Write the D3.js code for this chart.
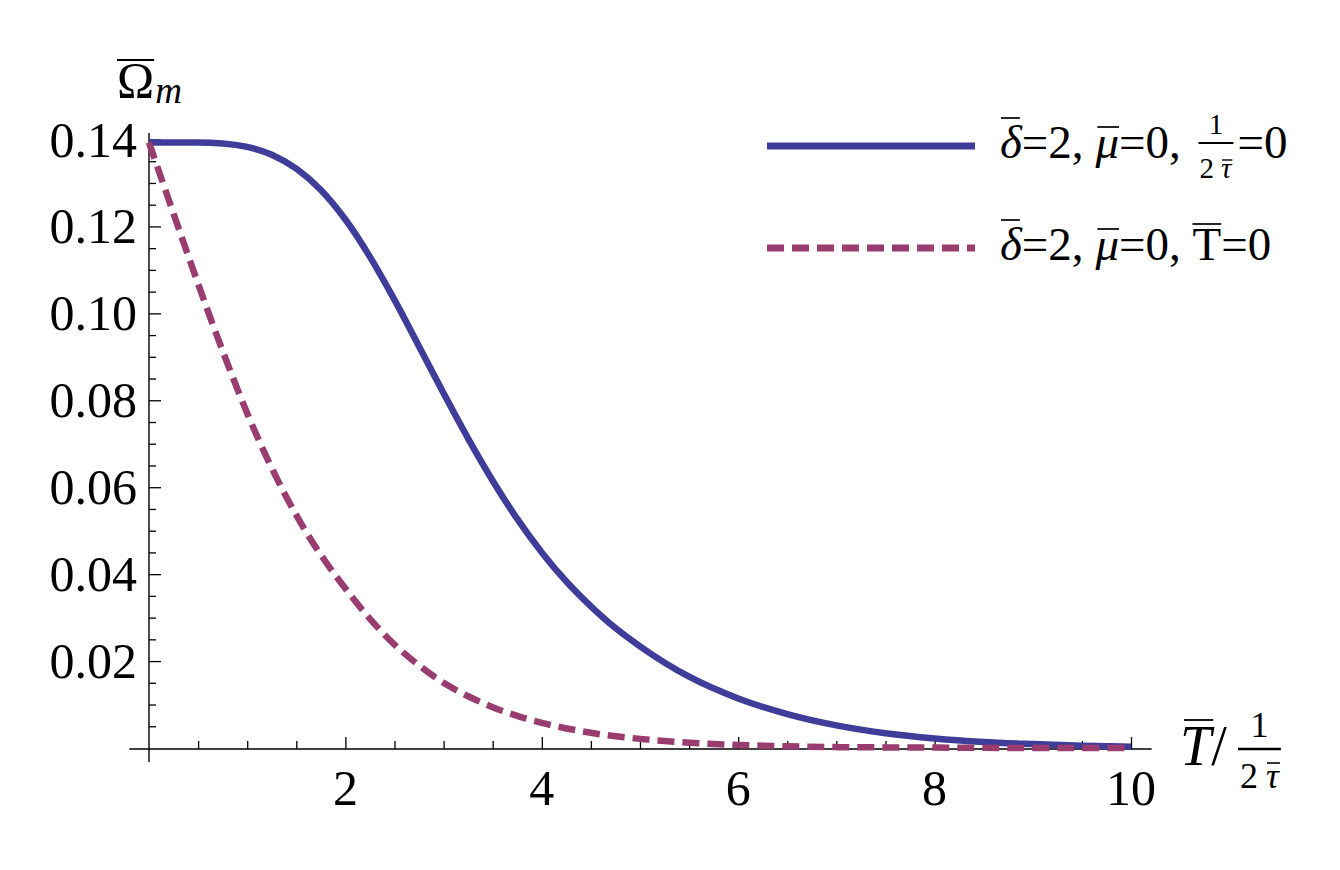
<!DOCTYPE html>
<html><head><meta charset="utf-8">
<script src="https://cdn.jsdelivr.net/npm/d3@7/dist/d3.min.js"></script>
<style>html,body{margin:0;padding:0;background:#fff;} svg{display:block;} text{white-space:pre;}</style>
</head><body>
<svg id="chart" width="1340" height="870"></svg>
<script>
// ---- data ----
const solidX = [0, 0.5, 0.75, 1.0, 1.25, 1.5, 1.75, 2.0, 2.25, 2.5, 2.75, 3.0, 3.25, 3.5, 3.75, 4.0, 4.25, 4.5, 4.75, 5.0, 5.5, 6.0, 6.5, 7.0, 7.5, 8.0, 8.5, 9.0, 9.5, 10];
const solidY = [0.1393, 0.1393, 0.1391, 0.1383, 0.1365, 0.1333, 0.1284, 0.1216, 0.1130, 0.1031, 0.0924, 0.0816, 0.0712, 0.0615, 0.0527, 0.0450, 0.0383, 0.0326, 0.0276, 0.0234, 0.0164, 0.0114, 0.0078, 0.0052, 0.0034, 0.0022, 0.0014, 0.0009, 0.0005, 0.0003];
const dashX = [0, 0.2, 0.4, 0.6, 0.8, 1.0, 1.2, 1.4, 1.6, 1.8, 2.0, 2.25, 2.5, 2.75, 3.0, 3.25, 3.5, 3.75, 4.0, 4.5, 5.0, 5.5, 6.0, 6.5, 7.0, 8.0, 9.0, 10];
const dashY = [0.1393, 0.1262, 0.1132, 0.1005, 0.0884, 0.0770, 0.0668, 0.0577, 0.0497, 0.0428, 0.0367, 0.0297, 0.0238, 0.0190, 0.0150, 0.0119, 0.0094, 0.0074, 0.0058, 0.0035, 0.0021, 0.0012, 0.0007, 0.0004, 0.0002, 0.0001, 0.0000, 0.0000];
const xMajorTicks = [2, 4, 6, 8, 10];
const xMinorTicks = [0.5, 1, 1.5, 2.5, 3, 3.5, 4.5, 5, 5.5, 6.5, 7, 7.5, 8.5, 9, 9.5];
const yMajorTicks = [0.02, 0.04, 0.06, 0.08, 0.10, 0.12, 0.14];
const yMinorTicks = [0.005, 0.01, 0.015, 0.025, 0.03, 0.035, 0.045, 0.05, 0.055, 0.065, 0.07, 0.075, 0.085, 0.09, 0.095, 0.105, 0.11, 0.115, 0.125, 0.13, 0.135];
const seriesColors = ["#3F3D99", "#993D71"];

// ---- scales ----
const svg = d3.select("#chart");
const FONT = "'Liberation Serif', 'Times New Roman', serif";
const x = d3.scaleLinear().domain([0, 10]).range([149, 1131]);
const y = d3.scaleLinear().domain([0, 0.14]).range([748, 139.5]);
const y0 = y(0) + 1;

// ---- axes ----
svg.append("line").attr("x1", x(-0.2)).attr("x2", x(10.21)).attr("y1", y0).attr("y2", y0)
  .attr("stroke", "#000").attr("stroke-width", 1.4);
svg.append("line").attr("x1", x(0)).attr("x2", x(0)).attr("y1", y(0.1415)).attr("y2", y(-0.0032))
  .attr("stroke", "#000").attr("stroke-width", 1.4);

function xTicks(vals, len) {
  const a = d3.axisBottom(x).tickValues(vals).tickSize(-len).tickFormat("");
  const g = svg.append("g").attr("transform", `translate(0,${y0})`).call(a);
  g.select(".domain").remove();
  g.selectAll(".tick line").attr("stroke", "#000").attr("stroke-width", 1.3);
}
function yTicks(vals, len) {
  const a = d3.axisLeft(y).tickValues(vals).tickSize(-len).tickFormat("");
  const g = svg.append("g").attr("transform", `translate(${x(0)},0)`).call(a);
  g.select(".domain").remove();
  g.selectAll(".tick line").attr("stroke", "#000").attr("stroke-width", 1.3);
}
xTicks(xMajorTicks, 12); xTicks(xMinorTicks, 8);
yTicks(yMajorTicks, 12); yTicks(yMinorTicks, 7);

const TS = 50;
svg.append("g").selectAll("text").data(xMajorTicks).join("text")
  .attr("x", d => x(d)).attr("y", 805).attr("text-anchor", "middle")
  .attr("font-family", FONT).attr("font-size", TS).text(d => d3.format("d")(d));
svg.append("g").selectAll("text").data(yMajorTicks).join("text")
  .attr("x", 137).attr("y", d => y(d) + 17).attr("text-anchor", "end")
  .attr("font-family", FONT).attr("font-size", TS).text(d => d3.format(".2f")(d));

// ---- curves ----
const line = d3.line().x(d => x(d[0])).y(d => y(d[1])).curve(d3.curveMonotoneX);
svg.append("path").datum(solidX.map((v, i) => [v, solidY[i]]))
  .attr("d", line).attr("fill", "none").attr("stroke", seriesColors[0]).attr("stroke-width", 6.5);
svg.append("path").datum(dashX.map((v, i) => [v, dashY[i]]))
  .attr("d", line).attr("fill", "none").attr("stroke", seriesColors[1]).attr("stroke-width", 6.5)
  .attr("stroke-dasharray", "17,8");

// ---- text helpers ----
function txt(xp, yp, s, size, italic, anchor) {
  return svg.append("text").attr("x", xp).attr("y", yp).attr("font-family", FONT)
    .attr("font-size", size).attr("font-style", italic ? "italic" : "normal")
    .attr("text-anchor", anchor || "start").text(s);
}
function bar(x1, x2, yy, w) {
  svg.append("line").attr("x1", x1).attr("x2", x2).attr("y1", yy).attr("y2", yy)
    .attr("stroke", "#000").attr("stroke-width", w || 1.6);
}
function flow(x0, base, parts) {
  let cx = x0;
  parts.forEach(p => {
    cx += (p.dx || 0);
    const t = txt(cx, base, p.t, p.size, p.it);
    const w = t.node().getComputedTextLength();
    if (p.ol !== undefined) bar(cx + (p.olx || 0), cx + w + (p.olx2 || 0), base + p.ol, 1.7);
    cx += w;
  });
  return cx;
}

// ---- legend ----
const LS = 47;
const legY = [146, 248];
svg.append("line").attr("x1", 767).attr("x2", 975).attr("y1", legY[0]).attr("y2", legY[0])
  .attr("stroke", seriesColors[0]).attr("stroke-width", 7);
svg.append("line").attr("x1", 767).attr("x2", 975).attr("y1", legY[1]).attr("y2", legY[1])
  .attr("stroke", seriesColors[1]).attr("stroke-width", 7).attr("stroke-dasharray", "17,8");

const NB = "\u00a0";
let ex = flow(1000, 158, [
  {t: "δ", size: LS, it: true, ol: -40, olx: 1, olx2: -2},
  {t: "=2," + NB, size: LS},
  {t: "μ", size: LS, it: true, ol: -31, olx: 2},
  {t: "=0," + NB, size: LS}
]);
// fraction 1/(2 tau)
const fx = ex + 6, FS = 29;
const fr2 = txt(fx + 1, 178, "2", FS, false);
const w2 = fr2.node().getComputedTextLength();
const tau = txt(fx + 1 + w2 + 7, 178, "τ", FS, true);
const wt = tau.node().getComputedTextLength();
const fEnd = fx + 1 + w2 + 7 + wt + 2;
bar(fx + w2 + 9, fEnd - 1, 160, 1.4);
bar(fx, fEnd, 143, 2.2);
txt((fx + fEnd) / 2, 134, "1", FS, false, "middle");
flow(fEnd + 4, 158, [{t: "=0", size: LS}]);

flow(1000, 260, [
  {t: "δ", size: LS, it: true, ol: -40, olx: 1, olx2: -2},
  {t: "=2," + NB, size: LS},
  {t: "μ", size: LS, it: true, ol: -31, olx: 2},
  {t: "=0," + NB, size: LS},
  {t: "T", size: LS, ol: -36},
  {t: "=0", size: LS}
]);

// ---- axis labels ----
const om = txt(117, 97, "Ω", 50, false);
const wom = om.node().getComputedTextLength();
bar(117, 117 + wom, 60, 1.8);
txt(117 + wom + 1, 103, "m", 37, true);

const tT = txt(1180, 765, "T", 56, true);
const wT = tT.node().getComputedTextLength();
bar(1184, 1180 + wT + 2, 720, 1.8);
txt(1180 + wT + 0, 765, "/", 56, false);
const gx = 1238;
const d2 = txt(gx + 2, 788, "2", 36, false);
const wd2 = d2.node().getComputedTextLength();
const dt = txt(gx + 2 + wd2 + 8, 788, "τ", 36, true);
const wdt = dt.node().getComputedTextLength();
const gEnd = gx + 2 + wd2 + 8 + wdt + 2;
bar(gx + wd2 + 11, gEnd - 1, 763, 1.6);
bar(gx, gEnd, 749, 2.4);
txt((gx + gEnd) / 2, 737, "1", 36, false, "middle");
</script>
</body></html>
